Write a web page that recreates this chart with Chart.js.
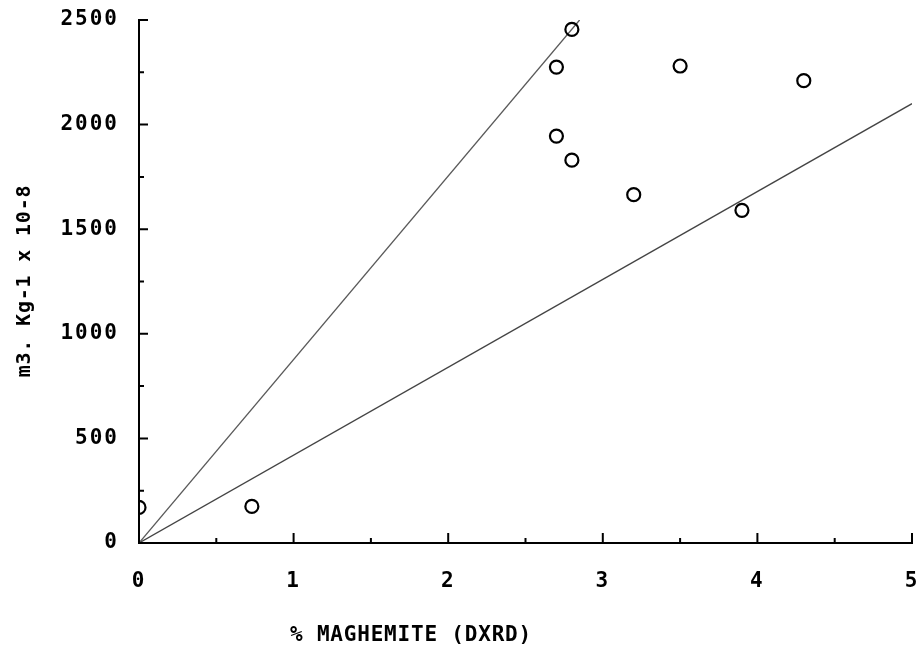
<!DOCTYPE html>
<html>
<head>
<meta charset="utf-8">
<script src="https://cdn.jsdelivr.net/npm/chart.js@4"></script>
<style>
  html, body { margin: 0; padding: 0; background: #fff; }
  #wrap { width: 922px; height: 656px; }
</style>
</head>
<body>
<div id="wrap"><canvas id="chart" width="922" height="656"></canvas></div>
<script>
// valeurs
const pctMaghemite = [0, 0.73, 2.7, 2.8, 2.7, 2.8, 3.2, 3.5, 3.9, 4.3];
const susceptibilite = [170, 175, 2275, 2455, 1945, 1830, 1665, 2280, 1590, 2210];

// droites tracées à la main
const droite1X = [0, 2.85];
const droite1Y = [0, 2500];
const droite2X = [0, 5];
const droite2Y = [0, 2100];

const titreX = "% MAGHEMITE (DXRD)";
const titreY = "m3. Kg-1 x 10-8";

const police = "'DejaVu Sans Mono', monospace";

function paires(xs, ys) {
    return xs.map((x, i) => ({ x: x, y: ys[i] }));
}

// petits traits vers l'intérieur + titres
const traitsEtTitres = {
    id: 'traitsEtTitres',
    beforeDraw(chart) {
        chart.ctx.letterSpacing = '2px';
    },
    afterDraw(chart) {
        const ctx = chart.ctx;
        const sx = chart.scales.x;
        const sy = chart.scales.y;
        ctx.save();
        ctx.strokeStyle = '#000';
        ctx.lineWidth = 2;
        ctx.beginPath();
        sx.ticks.forEach(t => {
            const px = sx.getPixelForValue(t.value);
            const l = Number.isInteger(t.value) ? 10 : 5;
            ctx.moveTo(px, sx.top);
            ctx.lineTo(px, sx.top - l);
        });
        sy.ticks.forEach(t => {
            const py = sy.getPixelForValue(t.value);
            const l = t.value % 500 === 0 ? 9 : 5;
            ctx.moveTo(sy.right, py);
            ctx.lineTo(sy.right + l, py);
        });
        ctx.stroke();

        ctx.fillStyle = '#000';
        ctx.letterSpacing = '0.8px';
        ctx.font = 'bold 21px ' + police;
        ctx.textAlign = 'center';
        ctx.textBaseline = 'middle';
        ctx.fillText(titreX, 411, 636);
        ctx.font = 'bold 20px ' + police;
        ctx.translate(25, 281);
        ctx.rotate(-Math.PI / 2);
        ctx.fillText(titreY, 0, 0);
        ctx.restore();
        ctx.letterSpacing = '0px';
    }
};

new Chart(document.getElementById('chart').getContext('2d'), {
    type: 'scatter',
    data: {
        datasets: [
            {
                data: paires(pctMaghemite, susceptibilite),
                pointStyle: 'circle',
                pointRadius: 6.5,
                pointBorderWidth: 2.2,
                pointBorderColor: '#000',
                pointBackgroundColor: 'rgba(0,0,0,0)',
                clip: 0
            },
            {
                data: paires(droite1X, droite1Y),
                showLine: true,
                pointRadius: 0,
                borderColor: '#5a5a5a',
                borderWidth: 1.3
            },
            {
                data: paires(droite2X, droite2Y),
                showLine: true,
                pointRadius: 0,
                borderColor: '#444',
                borderWidth: 1.3
            }
        ]
    },
    options: {
        responsive: false,
        animation: false,
        layout: { padding: { top: 20, right: 10, left: 0, bottom: 0 } },
        plugins: {
            legend: { display: false },
            tooltip: { enabled: false }
        },
        scales: {
            x: {
                type: 'linear',
                min: 0,
                max: 5,
                afterFit(s) { s.height = 113; s.paddingLeft = 0; s.paddingRight = 0; },
                border: { display: true, color: '#000', width: 2 },
                grid: { display: false, drawTicks: false },
                ticks: {
                    stepSize: 0.5,
                    autoSkip: false,
                    maxRotation: 0,
                    padding: 26,
                    color: '#000',
                    font: { family: police, size: 21, weight: 'bold' },
                    callback: v => Number.isInteger(v) ? String(v) : ''
                }
            },
            y: {
                type: 'linear',
                min: 0,
                max: 2500,
                afterFit(s) { s.width = 139; s.paddingTop = 0; s.paddingBottom = 0; },
                border: { display: true, color: '#000', width: 2 },
                grid: { display: false, drawTicks: false },
                ticks: {
                    stepSize: 250,
                    autoSkip: false,
                    padding: 20,
                    color: '#000',
                    font: { family: police, size: 21, weight: 'bold' },
                    callback: v => v % 500 === 0 ? String(v) : ''
                }
            }
        }
    },
    plugins: [traitsEtTitres]
});
</script>
</body>
</html>
